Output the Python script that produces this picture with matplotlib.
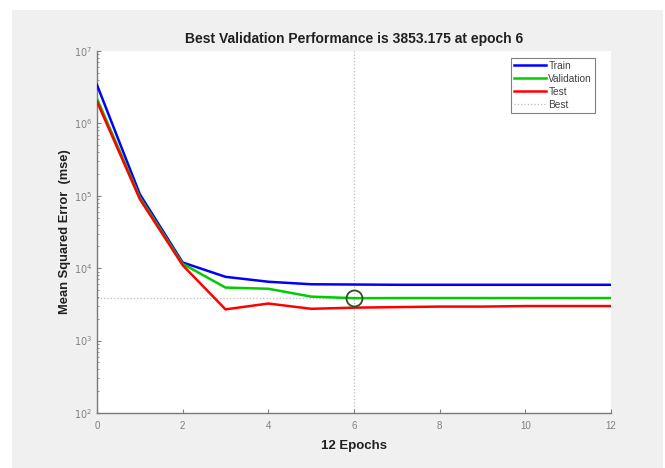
import matplotlib.pyplot as plt
from matplotlib.patches import Rectangle
from matplotlib.ticker import LogLocator, FixedLocator, NullFormatter
import numpy as np

plt.rcParams['font.family'] = ['Liberation Sans', 'DejaVu Sans']

# 训练过程的性能数据
epochs = [0, 1, 2, 3, 4, 5, 6, 7, 8, 9, 10, 11, 12]
train_mse = [3.4e6, 1.05e5, 1.2e4, 7600, 6500, 6000, 5950, 5900, 5900, 5900, 5900, 5900, 5900]
val_mse = [2.2e6, 9.5e4, 1.15e4, 5400, 5200, 4050, 3853.175, 3870, 3870, 3870, 3870, 3870, 3870]
test_mse = [2.0e6, 9.0e4, 1.1e4, 2700, 3250, 2750, 2850, 2900, 2950, 2950, 3000, 3000, 3000]
best_epoch = 6
best_perf = 3853.175
xticks = [0, 2, 4, 6, 8, 10, 12]
ydecades = [2, 3, 4, 5, 6, 7]

W, H = 665, 468
fig = plt.figure(figsize=(W / 100, H / 100), dpi=100, facecolor='white')
# 灰色背景区域
fig.patches.append(Rectangle((12 / W, 0), (663 - 12) / W, (H - 10) / H,
                             transform=fig.transFigure, facecolor='#f0f0f0',
                             edgecolor='none', zorder=-10))

ax = fig.add_axes([97 / W, (H - 413) / H, 514 / W, 362 / H])
ax.set_facecolor('white')

ax.plot(epochs, train_mse, color='#0000ff', linewidth=1.8, label='Train', zorder=3)
ax.plot(epochs, val_mse, color='#00cc00', linewidth=1.8, label='Validation', zorder=3)
ax.plot(epochs, test_mse, color='#ff0000', linewidth=1.8, label='Test', zorder=3)
ax.axhline(best_perf, color='#bdbdbd', linestyle=':', linewidth=0.9, label='Best', zorder=1)
ax.axvline(best_epoch, color='#bdbdbd', linestyle=':', linewidth=0.9, zorder=1)
ax.plot([best_epoch], [best_perf], 'o', markersize=11.5, markerfacecolor='none',
        markeredgecolor='#2f4f1f', markeredgewidth=1.3, zorder=4)

ax.set_yscale('log')
ax.set_xlim(0, 12)
ax.set_ylim(1e2, 1e7)
ax.set_xticks(xticks)
ax.set_xticklabels([str(t) for t in xticks])
ax.yaxis.set_major_locator(FixedLocator([10.0 ** d for d in ydecades]))
ax.set_yticklabels([r'$10^{%d}$' % d for d in ydecades])
ax.yaxis.set_minor_locator(LogLocator(base=10, subs=np.arange(2, 10)))
ax.yaxis.set_minor_formatter(NullFormatter())

for s in ['top', 'right']:
    ax.spines[s].set_visible(False)
for s in ['left', 'bottom']:
    ax.spines[s].set_color('#7a7a7a')
    ax.spines[s].set_linewidth(1.0)
ax.tick_params(which='both', direction='in', colors='#808080', labelsize=7)
ax.tick_params(which='major', length=3)
ax.tick_params(which='minor', length=1.5)
ax.tick_params(axis='x', pad=6)

ax.set_title('Best Validation Performance is 3853.175 at epoch 6',
             fontsize=10, fontweight='bold', color='#202020', pad=6)
ax.set_xlabel('12 Epochs', fontsize=9.5, fontweight='bold', color='#202020', labelpad=6)
ax.set_ylabel('Mean Squared Error  (mse)', fontsize=9.3, fontweight='bold',
              color='#202020', labelpad=2)

leg = ax.legend(loc='upper right', bbox_to_anchor=(0.969, 0.981), borderaxespad=0,
                fontsize=7.3, handlelength=3.2, labelspacing=0.3, handletextpad=0.2,
                fancybox=False, framealpha=1, edgecolor='#808080', borderpad=0.3)
leg.get_frame().set_linewidth(0.8)
for t in leg.get_texts():
    t.set_color('#404040')

plt.savefig('out.png', dpi=100)
